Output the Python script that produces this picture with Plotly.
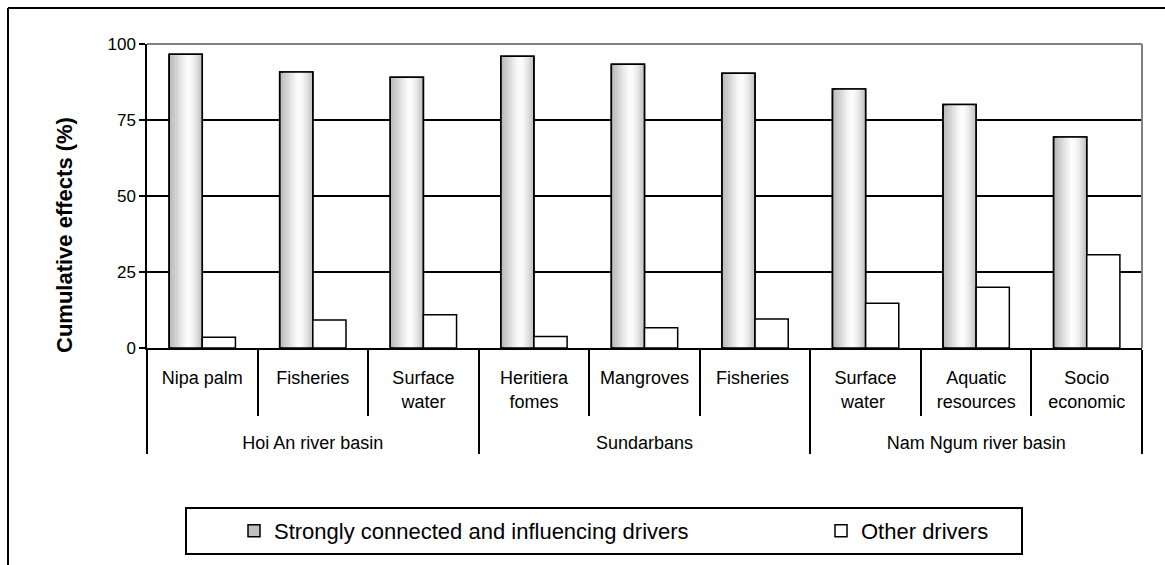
import plotly.graph_objects as go

# ---- data ----
groups = ["Hoi An river basin"] * 3 + ["Sundarbans"] * 3 + ["Nam Ngum river basin"] * 3
categories = ["Nipa palm", "Fisheries", "Surface<br>water<br><span style=\"font-size:60px\">&nbsp;</span>",
              "Heritiera<br>fomes", "Mangroves", "Fisheries ",
              "Surface<br>water ", "Aquatic<br>resources", "Socio<br>economic"]
strong_drivers = [96.6, 90.8, 89.1, 96.0, 93.3, 90.4, 85.2, 80.1, 69.4]
other_drivers = [3.5, 9.2, 10.9, 3.8, 6.7, 9.5, 14.7, 20.0, 30.7]
y_ticks = [0, 25, 50, 75, 100]

FONT = "Arial, Liberation Sans, sans-serif"

# plot-area geometry (pixels) used for paper-coordinate decorations
W, H = 1165, 565
ML, MR, MT, MB = 147, 23, 44, 217
PW, PH = W - ML - MR, H - MT - MB


def px(xp):
    return (xp - ML) / PW


def py(yp):
    return (H - MB - yp) / PH


x = [groups, categories]
fig = go.Figure()

BW = 0.3  # bar width in category units
# base of the gradient bars (legend entry)
fig.add_trace(go.Bar(
    x=x, y=strong_drivers, name="Strongly connected and influencing drivers",
    width=BW, offset=-BW, legend="legend",
    marker=dict(color="#bfbfbf", line=dict(color="black", width=1.5)),
))
# lighter stripes emulate the cylinder-like gradient fill
stripes = [(0.10, 0.97, "#c9c9c9"), (0.18, 0.92, "#d4d4d4"), (0.27, 0.86, "#e0e0e0"),
           (0.35, 0.80, "#ebebeb"), (0.43, 0.73, "#f4f4f4"), (0.50, 0.66, "#fbfbfb")]
for a, b, c in stripes:
    fig.add_trace(go.Bar(
        x=x, y=strong_drivers, width=BW * (b - a), offset=-BW + a * BW,
        marker=dict(color=c, line=dict(width=0)), showlegend=False, hoverinfo="skip",
    ))
# outline on top
fig.add_trace(go.Bar(
    x=x, y=strong_drivers, width=BW, offset=-BW,
    marker=dict(color="rgba(0,0,0,0)", line=dict(color="black", width=1.5)),
    showlegend=False, hoverinfo="skip",
))
fig.add_trace(go.Bar(
    x=x, y=other_drivers, name="Other drivers",
    width=BW, offset=0, legend="legend2",
    marker=dict(color="white", line=dict(color="black", width=1.5)),
))

shapes = [
    # plot-area top/right border (gray)
    dict(type="line", xref="paper", yref="paper", x0=0, x1=1, y0=1, y1=1,
         line=dict(color="#808080", width=2), layer="above"),
    dict(type="line", xref="paper", yref="paper", x0=1, x1=1, y0=0, y1=1,
         line=dict(color="#808080", width=2), layer="above"),
    # outer chart frame (top and left visible)
    dict(type="line", xref="paper", yref="paper", x0=px(8), x1=px(1170), y0=py(8), y1=py(8),
         line=dict(color="black", width=2)),
    dict(type="line", xref="paper", yref="paper", x0=px(8), x1=px(8), y0=py(8), y1=py(570),
         line=dict(color="black", width=2)),
    # legend box
    dict(type="rect", xref="paper", yref="paper", x0=px(186), x1=px(1022), y0=py(508), y1=py(554),
         line=dict(color="black", width=2), fillcolor="rgba(0,0,0,0)"),
]

legend_common = dict(orientation="h", xanchor="left", y=py(531), yanchor="middle",
                     font=dict(family=FONT, size=22, color="black"),
                     bgcolor="rgba(0,0,0,0)", borderwidth=0)

fig.update_layout(
    width=W, height=H,
    margin=dict(l=ML, r=MR, t=MT, b=MB, autoexpand=False),
    paper_bgcolor="white", plot_bgcolor="white",
    barmode="overlay",
    font=dict(family=FONT, color="black", size=18),
    showlegend=True,
    legend=dict(x=px(234), **legend_common),
    legend2=dict(x=px(821), **legend_common),
    shapes=shapes,
    hovermode=False,
    annotations=[dict(text="<b>Cumulative effects (%)</b>", textangle=-90,
                      xref="paper", yref="paper", x=px(64), y=py(235),
                      xanchor="center", yanchor="middle", showarrow=False,
                      font=dict(family=FONT, size=22, color="black"))],
)

fig.update_yaxes(
    range=[0, 100], tickvals=y_ticks, ticktext=[str(v) for v in y_ticks],
    ticks="outside", ticklen=6, tickwidth=1.5, tickcolor="black",
    showline=True, linecolor="black", linewidth=1.5,
    showgrid=True, gridcolor="black", gridwidth=1.5,
    zeroline=False, tickfont=dict(size=17), fixedrange=True,
)
fig.update_xaxes(
    type="multicategory", showline=True, linecolor="black", linewidth=1.5,
    ticks="outside", tickson="boundaries", ticklen=66, tickwidth=1.5, tickcolor="black",
    ticklabelstandoff=13,
    showdividers=True, dividercolor="black", dividerwidth=1.5,
    showgrid=False, tickfont=dict(size=18), fixedrange=True,
)

fig.write_html("out.html", config={"displayModeBar": False},
               post_script="document.body.style.margin='0px';")
